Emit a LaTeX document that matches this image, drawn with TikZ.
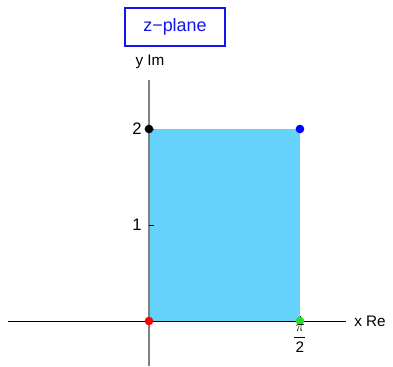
\documentclass[tikz,border=0pt]{standalone}
\usepackage{fontspec}
\setmainfont{Liberation Sans}
\usepackage{xcolor}
\usetikzlibrary{positioning}
\definecolor{regionblue}{RGB}{100,210,250}
\definecolor{titleblue}{RGB}{20,20,235}
\definecolor{dotgreen}{RGB}{40,220,40}

\begin{document}
\begin{tikzpicture}[
    x = 1in, y = 1in,
    axisline/.style = {line width = 0.7pt, black},
    yaxisline/.style = {line width = 1.4pt, black!50},
    tickmark/.style = {line width = 0.6pt, black},
    ticklbl/.style  = {font = \fontsize{12.5}{14}\selectfont, inner sep = 1pt},
    axlbl/.style    = {font = \fontsize{11.5}{13}\selectfont, inner sep = 1pt},
    fraclbl/.style  = {font = \fontsize{11.5}{13}\selectfont, inner sep = 0pt},
    titlebox/.style = {
      rectangle, draw = titleblue, line width = 1.5pt, text = titleblue,
      minimum width = 76pt, minimum height = 29pt,
      font = \fontsize{13.5}{15}\selectfont
    },
    dot/.style = {circle, inner sep = 0pt, minimum size = 6.5pt}
  ]
    \useasboundingbox (-1.552,-0.469) rectangle (2.542,3.344);

    % ── Region ───────────────────────────────────────────────────────────────
    \fill[regionblue] (0,0) rectangle (1.5729,2);

    % ── Axes ─────────────────────────────────────────────────────────────────
    \coordinate (xmin) at (-1.469,0);
    \coordinate (xmax) at (2.052,0);
    \coordinate (ymin) at (0,-0.469);
    \coordinate (ymax) at (0,2.51);
    \draw[axisline]  (xmin) -- (xmax);
    \draw[yaxisline] (ymin) -- (ymax);

    \draw[tickmark] (0,1) -- (0.05,1);
    \draw[tickmark] (0,2) -- (0.05,2);
    \draw[tickmark] (1.5729,0) -- (1.5729,0.05);

    % ── Corners ──────────────────────────────────────────────────────────────
    \node[dot, fill = red]       (pa) at (0,0) {};
    \node[dot, fill = dotgreen]  (pb) at (1.5729,0) {};
    \node[dot, fill = blue]      (pc) at (1.5729,2) {};
    \node[dot, fill = black]     (pd) at (0,2) {};

    % ── Labels ───────────────────────────────────────────────────────────────
    \node[ticklbl, anchor = east] (two) at (-0.06,2) {2};
    \node[ticklbl, anchor = east] (one) at (-0.06,1) {1};
    \node[fraclbl] (pinum) at (1.5729,-0.07) {$\pi$};
    \node[fraclbl] (piden) at (1.5729,-0.275) {2};
    \draw[line width = 0.6pt] (1.515,-0.167) -- (1.63,-0.167);
    \node[axlbl] (xlbl) at (2.302,0) {x Re};
    \node[axlbl] (ylbl) at (0.01,2.698) {y Im};
    \node[titlebox] (title) at (0.271,3.0625) {z−plane};
  \end{tikzpicture}
\end{document}
